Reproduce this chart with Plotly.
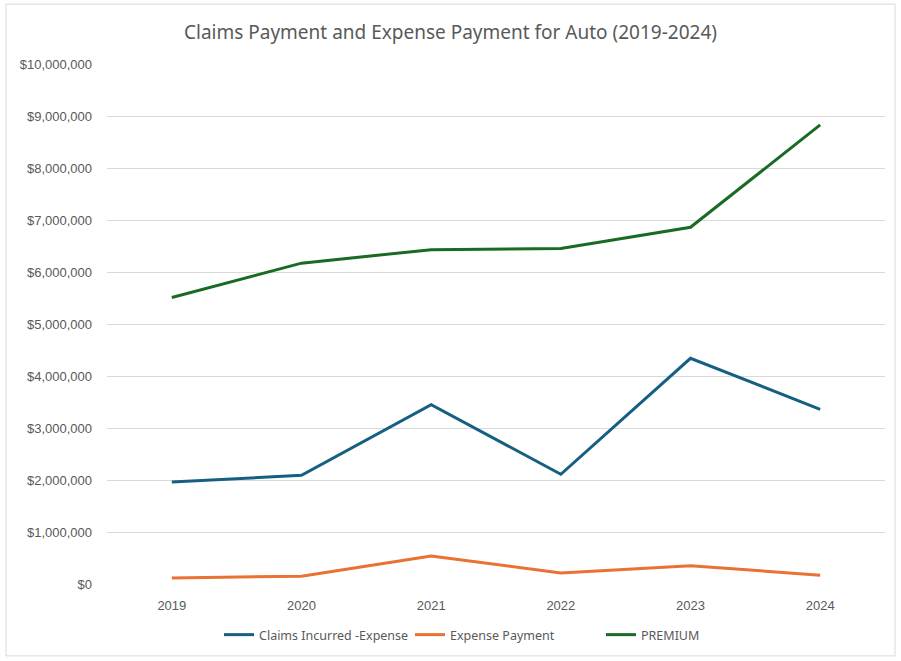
import plotly.graph_objects as go

years = ["2019", "2020", "2021", "2022", "2023", "2024"]
claims = [1960000, 2090000, 3450000, 2110000, 4340000, 3360000]
expense = [115000, 150000, 540000, 210000, 350000, 170000]
premium = [5510000, 6170000, 6430000, 6450000, 6860000, 8830000]

y_ticks = list(range(0, 10000001, 1000000))
y_labels = ["$0"] + ["${:,}".format(v) for v in y_ticks[1:]]

fig = go.Figure()
fig.add_trace(go.Scatter(x=years, y=claims, mode="lines", name="Claims Incurred -Expense",
                         line=dict(color="#156082", width=3)))
fig.add_trace(go.Scatter(x=years, y=expense, mode="lines", name="Expense Payment",
                         line=dict(color="#E97132", width=3)))
fig.add_trace(go.Scatter(x=years, y=premium, mode="lines", name="PREMIUM",
                         line=dict(color="#196B24", width=3)))

fig.update_layout(
    width=901, height=661,
    margin=dict(l=107, r=16, t=64, b=76),
    paper_bgcolor="white", plot_bgcolor="white",
    title=dict(text="Claims Payment and Expense Payment for Auto (2019-2024)",
               x=0.5, xanchor="center", y=1 - 32 / 661, yanchor="middle",
               font=dict(family="Noto Sans", size=19, color="#595959")),
    xaxis=dict(type="category", range=[-0.5, 5.5], showgrid=False, zeroline=False,
               showline=False, ticks="", ticklabelstandoff=12,
               tickfont=dict(family="Liberation Sans", size=13, color="#595959")),
    yaxis=dict(range=[0, 10000000], tickvals=y_ticks, ticktext=y_labels,
               showgrid=True, gridcolor="#D9D9D9", gridwidth=1, zeroline=False,
               showline=False, ticks="", ticklabelstandoff=14,
               tickfont=dict(family="Liberation Sans", size=13, color="#595959")),
    legend=dict(orientation="h", x=(219 - 107) / 778, xanchor="left", y=-0.096, yanchor="middle",
                font=dict(family="Noto Sans", size=12.5, color="#595959"),
                itemwidth=30, entrywidth=146, entrywidthmode="pixels", traceorder="normal"),
    hovermode=False,
    showlegend=True,
)

fig.add_shape(type="rect", xref="paper", yref="paper",
              x0=(6 - 107) / 778, x1=(895 - 107) / 778,
              y0=(585 - 657) / 521, y1=(585 - 4) / 521,
              line=dict(color="#D9D9D9", width=1), fillcolor="rgba(0,0,0,0)", layer="below")

fig.write_html("out.html")
